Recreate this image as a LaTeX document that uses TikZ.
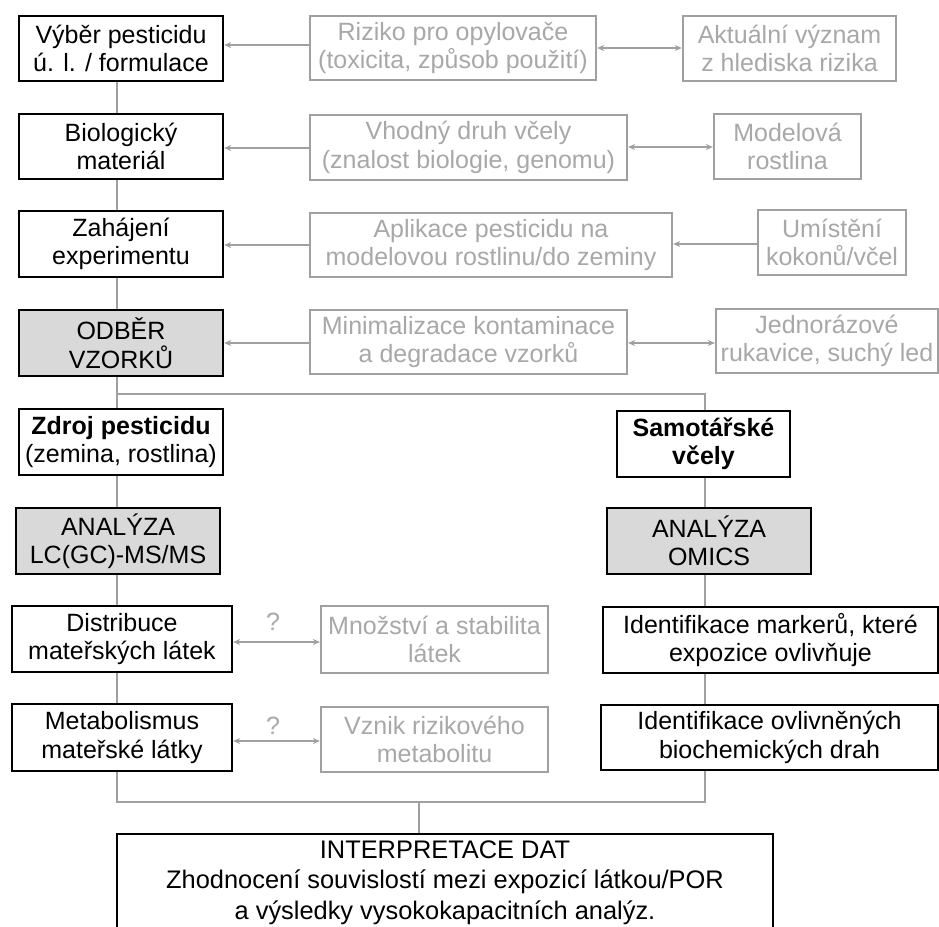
\documentclass[tikz,border=0pt]{standalone}
\usepackage{fontspec}
\setmainfont{Liberation Sans}
\usetikzlibrary{arrows.meta,calc}
\definecolor{lgray}{HTML}{A0A0A0}
\definecolor{tgray}{HTML}{A8A8A8}
\definecolor{bfill}{HTML}{D9D9D9}
\begin{document}
\begin{tikzpicture}[x=1pt,y=-1pt,
  every node/.style={font=\fontsize{25}{28.5}\selectfont, align=center, inner sep=0pt},
  bbox/.style={draw=black, line width=2.4pt, fill=white},
  fbox/.style={bbox, fill=bfill},
  gbox/.style={draw=lgray, line width=2.2pt, text=tgray},
  conn/.style={draw=lgray, line width=2.2pt},
  arr/.style={conn, -{Stealth[length=7pt,width=6pt]}},
  darr/.style={conn, {Stealth[length=7pt,width=6pt]}-{Stealth[length=7pt,width=6pt]}},
  qlab/.style={text=tgray}
]
\useasboundingbox[fill=white] (0,0) rectangle (939,926);

% left column
\node[bbox, minimum width=204pt, minimum height=65pt] (vyb) at (121,48.5) {Výběr pesticidu\\ú. l. / formulace};
\node[bbox, minimum width=204pt, minimum height=65pt] (bio) at (121,146.5) {Biologický\\materiál};
\node[bbox, minimum width=204pt, minimum height=66pt] (zah) at (121,244) {Zahájení\\experimentu};
\node[fbox, minimum width=204pt, minimum height=66pt] (odb) at (121,343) {ODBĚR\\VZORKŮ};
\node[bbox, minimum width=204pt, minimum height=66pt] (zdr) at (121,442) {{\bfseries Zdroj pesticidu}\\(zemina, rostlina)};
\node[fbox, minimum width=204pt, minimum height=66pt] (lc) at (118,541) {ANALÝZA\\LC(GC)-MS/MS};
\node[bbox, minimum width=220pt, minimum height=66pt] (dis) at (122,639) {Distribuce\\mateřských látek};
\node[bbox, minimum width=220pt, minimum height=67pt] (met) at (122,737.5) {Metabolismus\\mateřské látky};

% grey side boxes
\node[gbox, minimum width=286pt, minimum height=64pt] (riz) at (453,48) {Riziko pro opylovače\\(toxicita, způsob použití)};
\node[gbox, minimum width=213pt, minimum height=65pt] (akt) at (789.5,48.5) {Aktuální význam\\z hlediska rizika};
\node[gbox, minimum width=317pt, minimum height=65pt] (vho) at (468.5,147.5) {Vhodný druh včely\\(znalost biologie, genomu)};
\node[gbox, minimum width=147pt, minimum height=65pt] (mod) at (787.5,146.5) {Modelová\\rostlina};
\node[gbox, minimum width=362pt, minimum height=64pt] (apl) at (491,245) {Aplikace pesticidu na\\modelovou rostlinu/do zeminy};
\node[gbox, minimum width=148pt, minimum height=65pt] (umi) at (832,242.5) {Umístění\\kokonů/včel};
\node[gbox, minimum width=317pt, minimum height=64pt] (min) at (468.5,342) {Minimalizace kontaminace\\a degradace vzorků};
\node[gbox, minimum width=222pt, minimum height=64pt] (jed) at (827,341) {Jednorázové\\rukavice, suchý led};
\node[gbox, minimum width=227pt, minimum height=67pt] (mno) at (434.5,639.5) {Množství a stabilita\\látek};
\node[gbox, minimum width=227pt, minimum height=65pt] (vzn) at (434.5,739.5) {Vznik rizikového\\metabolitu};

% right column
\node[bbox, minimum width=173pt, minimum height=66pt] (sam) at (703.5,444) {\bfseries Samotářské\\\bfseries včely};
\node[fbox, minimum width=204pt, minimum height=66pt] (omi) at (709,541) {ANALÝZA\\OMICS};
\node[bbox, minimum width=335pt, minimum height=66pt] (mar) at (770.5,640) {Identifikace markerů, které\\expozice ovlivňuje};
\node[bbox, minimum width=337pt, minimum height=65pt] (ovl) at (769.5,737.5) {Identifikace ovlivněných\\biochemických drah};

% interpretation
\node[bbox, minimum width=656pt, minimum height=120pt, anchor=north] (int) at (445,833) {};
\node[font=\fontsize{25.4}{30.5}\selectfont] (inttext) at (445,882.5) {INTERPRETACE DAT\\Zhodnocení souvislostí mezi expozicí látkou/POR\\a výsledky vysokokapacitních analýz.};

% question marks
\node[qlab] (q1) at (273,622) {?};
\node[qlab] (q2) at (273,726) {?};

% trunk coordinates
\coordinate (L) at (117,0);
\coordinate (R) at (705,0);
\coordinate (J) at (117,394);
\coordinate (B) at (0,802);
\coordinate (M) at (419,802);

% left trunk
\draw[conn] (vyb.south -| L) -- (bio.north -| L);
\draw[conn] (bio.south -| L) -- (zah.north -| L);
\draw[conn] (zah.south -| L) -- (odb.north -| L);
\draw[conn] (odb.south -| L) -- (zdr.north -| L);
\draw[conn] (zdr.south -| L) -- (lc.north -| L);
\draw[conn] (lc.south -| L) -- (dis.north -| L);
\draw[conn] (dis.south -| L) -- (met.north -| L);
% branch to right
\draw[conn] (J) -- (J -| R) -- (sam.north -| R);
\draw[conn] (sam.south -| R) -- (omi.north -| R);
\draw[conn] (omi.south -| R) -- (mar.north -| R);
\draw[conn] (mar.south -| R) -- (ovl.north -| R);
% bottom join
\draw[conn] (met.south -| L) -- (B -| L) -- (B -| R) -- (ovl.south -| R);
\draw[conn] (M) -- (M |- int.north);

% side arrows
\draw[arr] (riz.west |- 0,45) -- (vyb.east |- 0,45);
\draw[darr] (riz.east |- 0,48) -- (akt.west |- 0,48);
\draw[arr] (vho.west |- 0,148) -- (bio.east |- 0,148);
\draw[darr] (vho.east |- 0,147) -- (mod.west |- 0,147);
\draw[arr] (apl.west |- 0,245) -- (zah.east |- 0,245);
\draw[arr] (umi.west |- 0,244) -- (apl.east |- 0,244);
\draw[arr] (min.west |- 0,343) -- (odb.east |- 0,343);
\draw[darr] (min.east |- 0,343) -- (jed.west |- 0,343);
\draw[darr] (dis.east |- 0,642) -- (mno.west |- 0,642);
\draw[darr] (met.east |- 0,741) -- (vzn.west |- 0,741);
\end{tikzpicture}
\end{document}
